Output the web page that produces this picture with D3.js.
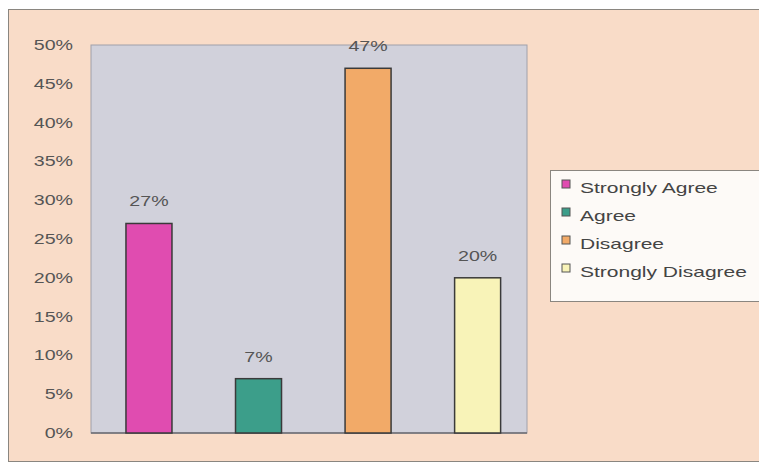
<!DOCTYPE html>
<html><head><meta charset="utf-8">
<script src="https://cdn.jsdelivr.net/npm/d3@7"></script>
<style>html,body{margin:0;padding:0;background:#fff;}svg{display:block;}</style>
</head><body>
<svg id="chart" width="759" height="465"></svg>
<script>
const categories = ["Strongly Agree", "Agree", "Disagree", "Strongly Disagree"];
const values = [0.27, 0.07, 0.47, 0.20];
const valueLabels = ["27%", "7%", "47%", "20%"];
const colors = ["#e04cb0", "#3c9e8a", "#f2aa68", "#f8f3b8"];
const tickValues = [0, 0.05, 0.10, 0.15, 0.20, 0.25, 0.30, 0.35, 0.40, 0.45, 0.50];

const svg = d3.select("#chart");
const font = "Arial, 'Liberation Sans', sans-serif";
const widen = sel => sel.each(function () {
  const len = this.getComputedTextLength();
  d3.select(this).attr("textLength", len * 1.4).attr("lengthAdjust", "spacingAndGlyphs");
});

// outer chart area
svg.append("rect").attr("x", 8.5).attr("y", 9.5).attr("width", 760).attr("height", 452)
  .attr("fill", "#f9dcc8").attr("stroke", "#8a8680").attr("stroke-width", 1);

const plot = {x0: 91, x1: 527, y0: 45, y1: 433};
const x = d3.scaleBand().domain(categories).range([plot.x0, plot.x1])
  .paddingInner(0.58).paddingOuter(0.28).align(0.57);
const y = d3.scaleLinear().domain([0, 0.5]).range([plot.y1, plot.y0]);

svg.append("rect").attr("x", plot.x0).attr("y", plot.y0).attr("width", plot.x1 - plot.x0).attr("height", plot.y1 - plot.y0)
  .attr("fill", "#d1d1db").attr("stroke", "#a0a0aa").attr("stroke-width", 1);

const yAxis = d3.axisLeft(y).tickValues(tickValues).tickFormat(d3.format(".0%")).tickSize(0).tickPadding(18);
const ga = svg.append("g").attr("transform", `translate(${plot.x0},0)`).call(yAxis);
ga.select(".domain").remove();
ga.selectAll("text").attr("font-family", font).attr("font-size", 14).attr("fill", "#555").call(widen);

svg.append("line").attr("x1", plot.x0).attr("x2", plot.x1).attr("y1", plot.y1).attr("y2", plot.y1)
  .attr("stroke", "#6a6a70").attr("stroke-width", 1.5);

svg.selectAll("rect.bar").data(categories).enter().append("rect").attr("class", "bar")
  .attr("x", d => x(d)).attr("width", x.bandwidth())
  .attr("y", (d, i) => y(values[i])).attr("height", (d, i) => y(0) - y(values[i]))
  .attr("fill", (d, i) => colors[i]).attr("stroke", "#3a3a3a").attr("stroke-width", 1.5);

svg.selectAll("text.lbl").data(categories).enter().append("text").attr("class", "lbl")
  .attr("x", d => x(d) + x.bandwidth() / 2).attr("y", (d, i) => y(values[i]) - 17)
  .attr("text-anchor", "middle").attr("font-family", font).attr("font-size", 14).attr("fill", "#555")
  .text((d, i) => valueLabels[i]).call(widen);

// legend
const lg = svg.append("g");
lg.append("rect").attr("x", 550.5).attr("y", 170.5).attr("width", 220).attr("height", 131)
  .attr("fill", "#fdfaf7").attr("stroke", "#8a8680").attr("stroke-width", 1);
const ly = d3.scalePoint().domain(categories).range([184, 268]);
categories.forEach((c, i) => {
  lg.append("rect").attr("x", 562).attr("y", ly(c) - 4).attr("width", 8).attr("height", 8)
    .attr("fill", colors[i]).attr("stroke", "#555").attr("stroke-width", 1);
  lg.append("text").attr("x", 580).attr("y", ly(c) + 8.5).attr("font-family", font).attr("font-size", 15)
    .attr("fill", "#444").text(c).call(widen);
});
</script>
</body></html>
